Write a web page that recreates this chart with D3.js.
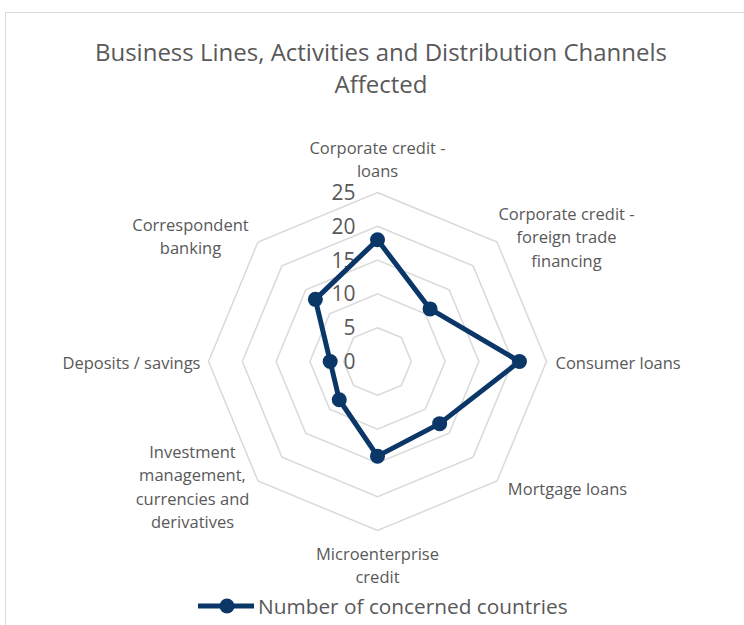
<!DOCTYPE html>
<meta charset="utf-8">
<style>
    body { margin: 0; background: #fff; }
    svg { font-family: "Open Sans", sans-serif; }
    .grid { fill: none; stroke: #d9d9d9; stroke-width: 1.5px; }
    .tick { fill: #595959; font-size: 21px; }
    .cat { fill: #595959; font-size: 16.5px; }
    .title { fill: #595959; font-size: 24px; }
    .series { fill: none; stroke: #0b3668; stroke-width: 5px; stroke-linejoin: round; }
    .dot { fill: #0b3668; }
</style>

<body>
    <script src="https://d3js.org/d3.v7.min.js"></script>
    <script>
        var categories = [
            ["Corporate credit -", "loans"],
            ["Corporate credit -", "foreign trade", "financing"],
            ["Consumer loans"],
            ["Mortgage loans"],
            ["Microenterprise", "credit"],
            ["Investment", "management,", "currencies and", "derivatives"],
            ["Deposits / savings"],
            ["Correspondent", "banking"]
        ];
        var values = [18, 11, 21, 13, 14, 8, 7, 13];
        var ticks = [0, 5, 10, 15, 20, 25];
        var seriesName = "Number of concerned countries";

        var width = 744,
            height = 625,
            cx = 377.5,
            cy = 361.5;

        var svg = d3.select('body').append('svg')
            .attr('width', width)
            .attr('height', height);

        // chart border
        svg.append('rect')
            .attr('x', 5.5).attr('y', 12.5)
            .attr('width', 800).attr('height', 700)
            .attr('fill', 'none').attr('stroke', '#d9d9d9');

        svg.append('text').attr('class', 'title')
            .attr('text-anchor', 'middle')
            .selectAll('tspan')
            .data(["Business Lines, Activities and Distribution Channels", "Affected"])
            .enter().append('tspan')
            .attr('x', 381)
            .attr('y', function (d, i) { return 61 + i * 32; })
            .text(function (d) { return d; });

        var r = d3.scaleLinear().domain([0, 25]).range([0, 169]);
        var angle = d3.scalePoint()
            .domain(d3.range(categories.length))
            .range([0, 2 * Math.PI * (categories.length - 1) / categories.length]);

        var radial = d3.lineRadial()
            .angle(function (d, i) { return angle(i); })
            .curve(d3.curveLinearClosed);

        var g = svg.append('g').attr('transform', 'translate(' + cx + ',' + cy + ')');

        // rings
        g.selectAll('.grid')
            .data(ticks.filter(function (t) { return t > 0; }))
            .enter().append('path')
            .attr('class', 'grid')
            .attr('d', function (t) {
                return radial.radius(r(t))(categories);
            });

        // tick labels
        g.selectAll('.tick')
            .data(ticks)
            .enter().append('text')
            .attr('class', 'tick')
            .attr('text-anchor', 'end')
            .attr('x', -22)
            .attr('y', function (t) { return -r(t) + 7.5; })
            .text(function (t) { return t; });

        // category labels
        var labelPos = [
            { x: 0, y: -214, a: 'middle' },
            { x: 189, y: -148, a: 'middle' },
            { x: 178, y: 1, a: 'start' },
            { x: 190, y: 127, a: 'middle' },
            { x: 0, y: 192, a: 'middle' },
            { x: -185, y: 90, a: 'middle' },
            { x: -177, y: 1, a: 'end' },
            { x: -187, y: -137, a: 'middle' }
        ];
        g.selectAll('.cat')
            .data(categories)
            .enter().append('text')
            .attr('class', 'cat')
            .attr('text-anchor', function (d, i) { return labelPos[i].a; })
            .each(function (lines, i) {
                var p = labelPos[i];
                d3.select(this).selectAll('tspan')
                    .data(lines)
                    .enter().append('tspan')
                    .attr('x', p.x)
                    .attr('y', function (d, j) { return p.y + 6 + j * 23.5; })
                    .text(function (d) { return d; });
            });

        // series
        g.append('path')
            .attr('class', 'series')
            .attr('d', radial.radius(function (d) { return r(d); })(values));

        g.selectAll('.dot')
            .data(values)
            .enter().append('circle')
            .attr('class', 'dot')
            .attr('r', 7.5)
            .attr('cx', function (d, i) { return r(d) * Math.sin(angle(i)); })
            .attr('cy', function (d, i) { return -r(d) * Math.cos(angle(i)); });

        // legend
        var lg = svg.append('g').attr('transform', 'translate(198,606)');
        lg.append('line').attr('x1', 0).attr('x2', 56)
            .attr('stroke', '#0b3668').attr('stroke-width', 5);
        lg.append('circle').attr('class', 'dot').attr('cx', 29).attr('r', 7.5);
        lg.append('text').attr('x', 60).attr('y', 7.5)
            .attr('fill', '#595959').style('font-size', '20.8px')
            .text(seriesName);
    </script>
</body>
